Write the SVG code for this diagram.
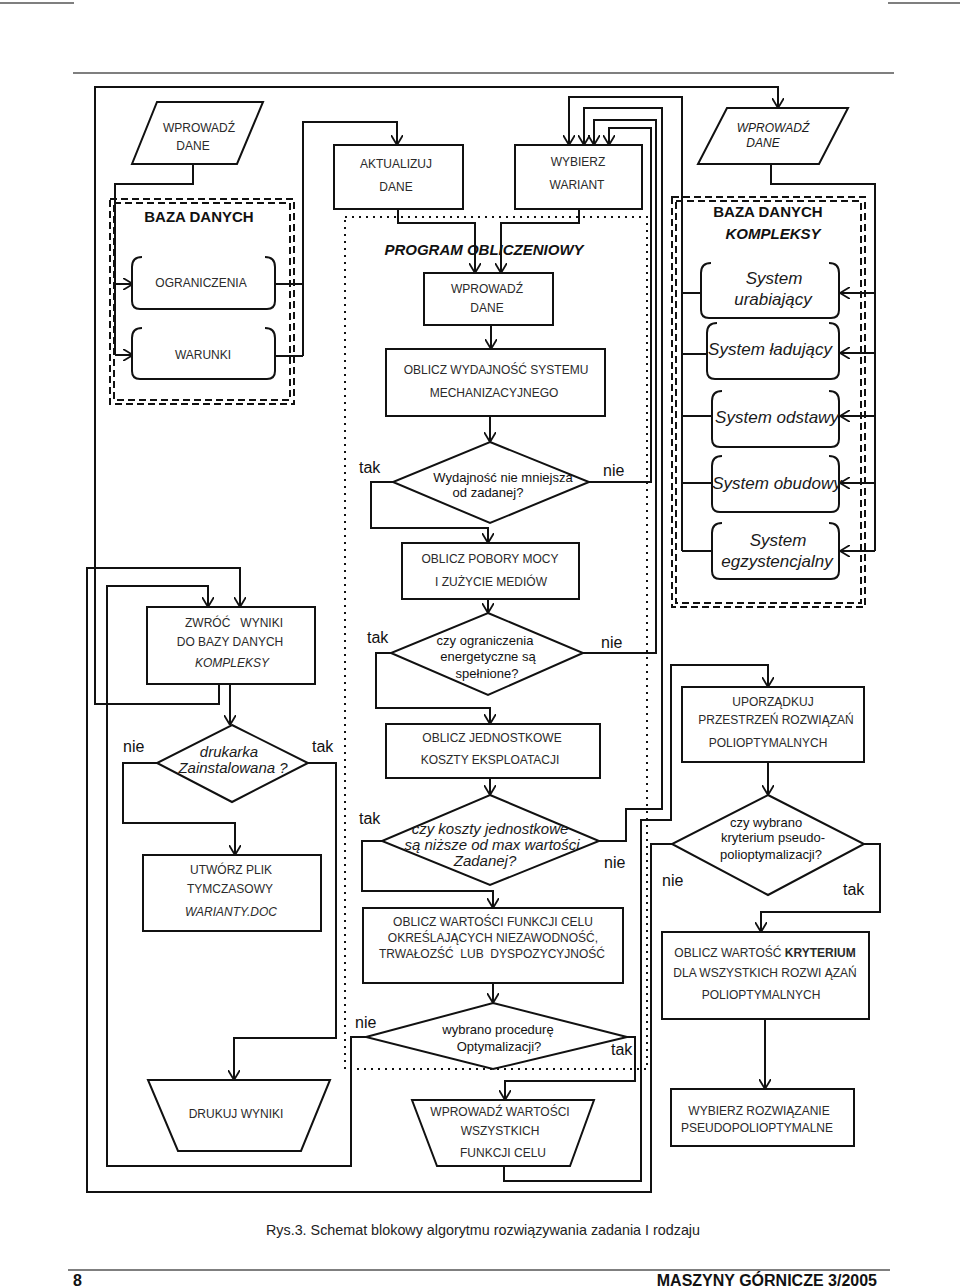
<svg xmlns="http://www.w3.org/2000/svg" width="960" height="1288" viewBox="0 0 960 1288">
<defs>
<style>
.bx{fill:#fff;stroke:#111;stroke-width:2}
.br{fill:none;stroke:#111;stroke-width:2}
.cn{fill:none;stroke:#111;stroke-width:2}
.ar{marker-end:url(#arr)}
.dash{fill:none;stroke:#111;stroke-width:2;stroke-dasharray:7 4}
.dot{fill:none;stroke:#111;stroke-width:2;stroke-dasharray:2 5}
.rule{stroke:#555;stroke-width:1.6}
.t{font-family:"Liberation Sans",Arial,sans-serif;font-size:12px;fill:#2a2a2a;text-anchor:middle}
.ti{font-family:"Liberation Sans",Arial,sans-serif;font-style:italic;fill:#1a1a1a;text-anchor:middle}
.lb{font-family:"Liberation Sans",Arial,sans-serif;font-size:16px;fill:#111}
.hd{font-family:"Liberation Sans",Arial,sans-serif;font-weight:bold;font-size:15px;fill:#111;text-anchor:middle}
.q{font-family:"Liberation Sans",Arial,sans-serif;font-size:13px;fill:#111;text-anchor:middle}
</style>
<marker id="arr" viewBox="0 0 10 12" refX="10" refY="6" markerWidth="10" markerHeight="12" markerUnits="userSpaceOnUse" orient="auto">
<path d="M0,0 L10,6 L0,12" fill="none" stroke="#111" stroke-width="1.8"/>
</marker>
</defs>
<rect width="960" height="1288" fill="#fff"/>

<!-- page rules -->
<g id="page">
<line class="rule" x1="0" y1="3" x2="74" y2="3"/>
<line class="rule" x1="888" y1="3" x2="960" y2="3"/>
<line class="rule" x1="73" y1="73" x2="894" y2="73"/>
<line class="rule" x1="68" y1="1270" x2="890" y2="1270"/>
<text x="266" y="1235" font-family="Liberation Sans, Arial, sans-serif" font-size="15" fill="#222" textLength="434" lengthAdjust="spacingAndGlyphs">Rys.3. Schemat blokowy algorytmu rozwiązywania zadania I rodzaju</text>
<text x="73" y="1286" font-family="Liberation Sans, Arial, sans-serif" font-size="16" font-weight="bold" fill="#111">8</text>
<text x="877" y="1286" font-family="Liberation Sans, Arial, sans-serif" font-size="16" font-weight="bold" fill="#111" text-anchor="end">MASZYNY GÓRNICZE 3/2005</text>
</g>

<!-- group frames -->
<g id="baza-danych">
<rect class="dash" x="110" y="199" width="184" height="205"/>
<rect class="dash" x="114" y="203" width="176" height="197"/>
<text class="hd" x="199" y="222">BAZA DANYCH</text>
</g>
<g id="baza-kompleksy">
<rect class="dash" x="672" y="197" width="193" height="410"/>
<rect class="dash" x="676" y="201" width="185" height="402"/>
<text class="hd" x="768" y="217">BAZA DANYCH</text>
<text class="hd" x="773" y="239" font-style="italic">KOMPLEKSY</text>
</g>
<g id="program">
<rect class="dot" x="345" y="217" width="302" height="852"/>
<text class="hd" x="484" y="255" font-style="italic">PROGRAM OBLICZENIOWY</text>
</g>

<!-- connectors -->
<g id="connectors">
<path class="cn" d="M193,164 V184 H115 V354"/>
<path class="cn ar" d="M115,284 H133"/>
<path class="cn ar" d="M115,355 H133"/>
<path class="cn" d="M275,284 H303 M276,356 H303"/>
<path class="cn ar" d="M303,356 V122 H397 V145"/>
<path class="cn ar" d="M398,209 V223 H475 V273"/>
<path class="cn ar" d="M579,209 V223 H501 V273"/>
<path class="cn ar" d="M491,325 V349"/>
<path class="cn ar" d="M490,416 V442"/>
<path class="cn ar" d="M393,482 H371 V528 H488 V543"/>
<path class="cn ar" d="M488,599 V613"/>
<path class="cn ar" d="M391,653 H376 V708 H490 V724"/>
<path class="cn ar" d="M490,778 V795"/>
<path class="cn ar" d="M382,841 H362 V891 H493 V908"/>
<path class="cn ar" d="M493,983 V1003"/>
<path class="cn ar" d="M627,1037 H635 V1081 H505 V1100"/>
<path class="cn ar" d="M366,1037 H351 V1166 H107 V586 H208 V607"/>
<path class="cn ar" d="M504,1166 V1181 H641 V820 H671 V665 H768 V687"/>
<path class="cn ar" d="M589,482 H651 V128 H609 V145"/>
<path class="cn ar" d="M583,653 H656 V120 H594 V145"/>
<path class="cn ar" d="M599,841 H626 V809 H662 V108 H584 V145"/>
<path class="cn ar" d="M682,551 V97 H569 V145"/>
<path class="cn" d="M682,293 H701 M682,354 H707 M682,416 H712 M682,483 H712 M682,551 H712"/>
<path class="cn" d="M771,164 V184 H875 V551"/>
<path class="cn ar" d="M875,293 H840"/>
<path class="cn ar" d="M875,353 H840"/>
<path class="cn ar" d="M875,416 H840"/>
<path class="cn ar" d="M875,483 H840"/>
<path class="cn ar" d="M875,551 H840"/>
<path class="cn ar" d="M768,762 V795"/>
<path class="cn ar" d="M672,844 H651 V1192 H87 V568 H240 V607"/>
<path class="cn ar" d="M864,844 H880 V912 H761 V932"/>
<path class="cn ar" d="M765,1019 V1089"/>
<path class="cn ar" d="M230,684 V725"/>
<path class="cn ar" d="M219,684 V704 H95 V87 H778 V108"/>
<path class="cn ar" d="M157,763 H123 V823 H235 V855"/>
<path class="cn ar" d="M308,763 H336 V1038 H234 V1080"/>
</g>

<!-- nodes -->
<g id="wprowadz-dane-l">
<polygon class="bx" points="157,102 263,102 237,164 132,164"/>
<text class="t" x="199" y="132">WPROWADŹ</text>
<text class="t" x="193" y="150">DANE</text>
</g>
<g id="ograniczenia">
<path class="br" d="M142,257 Q132,257 132,267 V301 Q132,309 140,309 H267 Q275,309 275,301 V267 Q275,257 265,257"/>
<text class="t" x="201" y="287">OGRANICZENIA</text>
</g>
<g id="warunki">
<path class="br" d="M142,328 Q132,328 132,338 V371 Q132,379 140,379 H267 Q275,379 275,371 V338 Q275,328 265,328"/>
<text class="t" x="203" y="359" font-size="15">WARUNKI</text>
</g>
<g id="aktualizuj">
<rect class="bx" x="334" y="145" width="129" height="64"/>
<text class="t" x="396" y="168">AKTUALIZUJ</text>
<text class="t" x="396" y="191">DANE</text>
</g>
<g id="wybierz-wariant">
<rect class="bx" x="515" y="145" width="127" height="64"/>
<text class="t" x="578" y="166">WYBIERZ</text>
<text class="t" x="577" y="189">WARIANT</text>
</g>
<g id="wprowadz-dane-r">
<polygon class="bx" points="727,108 848,108 819,164 698,164"/>
<text class="ti" x="773" y="132" font-size="12">WPROWADŹ</text>
<text class="ti" x="763" y="147" font-size="12">DANE</text>
</g>
<g id="wprowadz-dane-m">
<rect class="bx" x="424" y="273" width="129" height="52"/>
<text class="t" x="487" y="293">WPROWADŹ</text>
<text class="t" x="487" y="312">DANE</text>
</g>
<g id="oblicz-wydajnosc">
<rect class="bx" x="386" y="349" width="219" height="67"/>
<text class="t" x="496" y="374">OBLICZ WYDAJNOŚĆ SYSTEMU</text>
<text class="t" x="494" y="397">MECHANIZACYJNEGO</text>
</g>
<g id="d-wydajnosc">
<polygon class="bx" points="490,442 589,482 490,523 393,482"/>
<text class="q" x="503" y="482">Wydajność nie mniejsza</text>
<text class="q" x="488" y="497">od zadanej?</text>
<text class="lb" x="359" y="473">tak</text>
<text class="lb" x="603" y="476">nie</text>
</g>
<g id="oblicz-pobory">
<rect class="bx" x="402" y="543" width="177" height="56"/>
<text class="t" x="490" y="563">OBLICZ POBORY MOCY</text>
<text class="t" x="491" y="586">I ZUŻYCIE MEDIÓW</text>
</g>
<g id="d-ograniczenia">
<polygon class="bx" points="488,613 583,653 488,695 391,653"/>
<text class="q" x="485" y="645">czy ograniczenia</text>
<text class="q" x="488" y="661">energetyczne są</text>
<text class="q" x="487" y="678">spełnione?</text>
<text class="lb" x="367" y="643">tak</text>
<text class="lb" x="601" y="648" font-size="19">nie</text>
</g>
<g id="oblicz-jednostkowe">
<rect class="bx" x="386" y="724" width="214" height="54"/>
<text class="t" x="492" y="742">OBLICZ JEDNOSTKOWE</text>
<text class="t" x="490" y="764">KOSZTY EKSPLOATACJI</text>
</g>
<g id="d-koszty">
<polygon class="bx" points="490,795 599,841 490,885 382,841"/>
<text class="ti" x="490" y="834" font-size="15">czy koszty jednostkowe</text>
<text class="ti" x="492" y="850" font-size="15">są niższe od max wartości</text>
<text class="ti" x="485" y="866" font-size="15">Zadanej?</text>
<text class="lb" x="359" y="824">tak</text>
<text class="lb" x="604" y="868">nie</text>
</g>
<g id="oblicz-wartosci">
<rect class="bx" x="363" y="908" width="260" height="75"/>
<text class="t" x="493" y="926">OBLICZ WARTOŚCI FUNKCJI CELU</text>
<text class="t" x="493" y="942">OKREŚLAJĄCYCH NIEZAWODNOŚĆ,</text>
<text class="t" x="492" y="958" xml:space="preserve">TRWAŁOZŚĆ  LUB  DYSPOZYCYJNOŚĆ</text>
</g>
<g id="d-procedura">
<polygon class="bx" points="493,1003 627,1037 493,1069 366,1037"/>
<text class="q" x="498" y="1034" font-size="15">wybrano procedurę</text>
<text class="q" x="499" y="1051" font-size="15">Optymalizacji?</text>
<text class="lb" x="355" y="1028" font-size="18">nie</text>
<text class="lb" x="611" y="1055">tak</text>
</g>
<g id="wprowadz-wartosci">
<polygon class="bx" points="412,1100 594,1100 570,1166 437,1166"/>
<text class="t" x="500" y="1116">WPROWADŹ WARTOŚCI</text>
<text class="t" x="500" y="1135">WSZYSTKICH</text>
<text class="t" x="503" y="1157">FUNKCJI CELU</text>
</g>
<g id="zwroc-wyniki">
<rect class="bx" x="147" y="607" width="168" height="77"/>
<text class="t" x="234" y="627" xml:space="preserve">ZWRÓĆ   WYNIKI</text>
<text class="t" x="230" y="646">DO BAZY DANYCH</text>
<text class="t" x="232" y="667" font-style="italic">KOMPLEKSY</text>
</g>
<g id="d-drukarka">
<polygon class="bx" points="232,725 308,763 232,802 157,763"/>
<text class="ti" x="229" y="757" font-size="15">drukarka</text>
<text class="ti" x="233" y="773" font-size="15">Zainstalowana ?</text>
<text class="lb" x="123" y="752">nie</text>
<text class="lb" x="312" y="752">tak</text>
</g>
<g id="utworz-plik">
<rect class="bx" x="143" y="855" width="178" height="76"/>
<text class="t" x="231" y="874">UTWÓRZ PLIK</text>
<text class="t" x="230" y="893">TYMCZASOWY</text>
<text class="t" x="231" y="916" font-style="italic">WARIANTY.DOC</text>
</g>
<g id="drukuj-wyniki">
<polygon class="bx" points="148,1080 330,1080 301,1151 178,1151"/>
<text class="t" x="236" y="1118">DRUKUJ WYNIKI</text>
</g>
<g id="sys-urabiajacy">
<path class="br" d="M711,263 Q701,263 701,273 V310 Q701,318 709,318 H831 Q839,318 839,310 V273 Q839,263 829,263"/>
<text class="ti" x="774" y="284" font-size="17">System</text>
<text class="ti" x="773" y="305" font-size="17">urabiający</text>
</g>
<g id="sys-ladujacy">
<path class="br" d="M717,323 Q707,323 707,333 V371 Q707,379 715,379 H831 Q839,379 839,371 V333 Q839,323 829,323"/>
<text class="ti" x="770" y="355" font-size="17">System ładujący</text>
</g>
<g id="sys-odstawy">
<path class="br" d="M722,391 Q712,391 712,401 V439 Q712,447 720,447 H831 Q839,447 839,439 V401 Q839,391 829,391"/>
<text class="ti" x="777" y="423" font-size="17">System odstawy</text>
</g>
<g id="sys-obudowy">
<path class="br" d="M722,456 Q712,456 712,466 V504 Q712,512 720,512 H831 Q839,512 839,504 V466 Q839,456 829,456"/>
<text class="ti" x="777" y="489" font-size="17">System obudowy</text>
</g>
<g id="sys-egzystencjalny">
<path class="br" d="M722,523 Q712,523 712,533 V571 Q712,579 720,579 H831 Q839,579 839,571 V533 Q839,523 829,523"/>
<text class="ti" x="778" y="546" font-size="17">System</text>
<text class="ti" x="777" y="567" font-size="17">egzystencjalny</text>
</g>
<g id="uporzadkuj">
<rect class="bx" x="682" y="687" width="182" height="75"/>
<text class="t" x="773" y="706">UPORZĄDKUJ</text>
<text class="t" x="776" y="724">PRZESTRZEŃ ROZWIĄZAŃ</text>
<text class="t" x="768" y="747">POLIOPTYMALNYCH</text>
</g>
<g id="d-kryterium">
<polygon class="bx" points="768,795 864,844 768,895 672,844"/>
<text class="q" x="766" y="827">czy wybrano</text>
<text class="q" x="773" y="842">kryterium pseudo-</text>
<text class="q" x="771" y="859">polioptymalizacji?</text>
<text class="lb" x="662" y="886">nie</text>
<text class="lb" x="843" y="895">tak</text>
</g>
<g id="oblicz-kryterium">
<rect class="bx" x="662" y="932" width="207" height="87"/>
<text class="t" x="765" y="957">OBLICZ WARTOŚĆ <tspan font-weight="bold">KRYTERIUM</tspan></text>
<text class="t" x="765" y="977">DLA WSZYSTKICH ROZWI ĄZAŃ</text>
<text class="t" x="761" y="999">POLIOPTYMALNYCH</text>
</g>
<g id="wybierz-rozwiazanie">
<rect class="bx" x="671" y="1089" width="183" height="57"/>
<text class="t" x="759" y="1115">WYBIERZ ROZWIĄZANIE</text>
<text class="t" x="757" y="1132">PSEUDOPOLIOPTYMALNE</text>
</g>
</svg>
